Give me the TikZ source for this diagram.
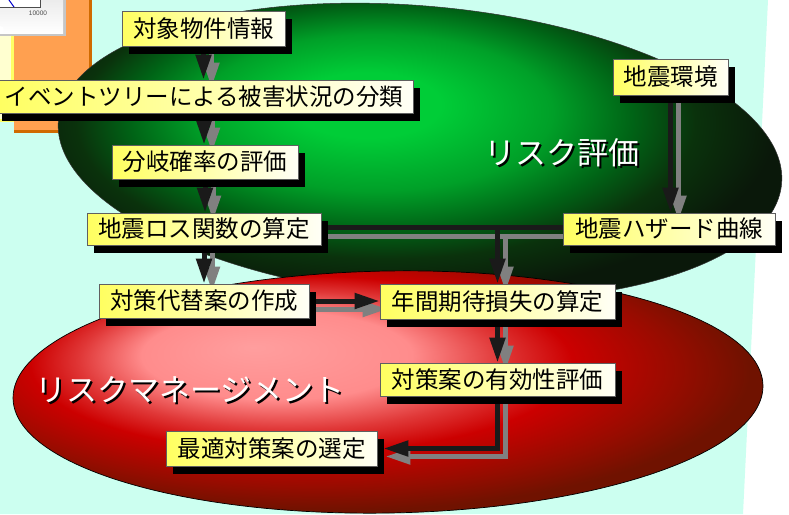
\documentclass[tikz,border=0pt]{standalone}
\usepackage{fontspec}
\setmainfont{Noto Sans CJK JP}
\newfontfamily\latfont{Liberation Sans}
\usetikzlibrary{arrows.meta,shadows,calc}
\definecolor{bgcyan}{RGB}{204,255,240}
\definecolor{orangeA}{RGB}{255,160,80}
\definecolor{orangeB}{RGB}{208,106,0}
\definecolor{paleY}{RGB}{255,255,208}
\definecolor{edgeY}{RGB}{255,255,100}
\definecolor{boxY}{RGB}{255,255,96}
\definecolor{boxW}{RGB}{255,255,246}
\definecolor{arrK}{RGB}{26,26,26}
\definecolor{arrG}{RGB}{128,128,128}
\definecolor{gA}{RGB}{0,205,55}
\definecolor{gB}{RGB}{0,160,40}
\definecolor{gC}{RGB}{0,100,22}
\definecolor{gD}{RGB}{10,50,12}
\definecolor{gE}{RGB}{10,24,10}
\definecolor{rA}{RGB}{255,158,158}
\definecolor{rB}{RGB}{255,140,140}
\definecolor{rC}{RGB}{204,0,0}
\definecolor{rD}{RGB}{150,12,0}
\definecolor{rE}{RGB}{112,18,0}
\pgfdeclareradialshading{greensh}{\pgfpoint{-4bp}{8bp}}{color(0bp)=(gA); color(5bp)=(gA); color(12bp)=(gB); color(17bp)=(gC); color(21bp)=(gD); color(26bp)=(gE); color(50bp)=(gE)}
\pgfdeclareradialshading{redsh}{\pgfpoint{-9bp}{9.5bp}}{color(0bp)=(rA); color(9bp)=(rB); color(14bp)=(rC!60!rB); color(18bp)=(rC); color(24bp)=(rD); color(28bp)=(rE); color(50bp)=(rE)}
\pgfdeclarelayer{bg}
\pgfdeclarelayer{arr}
\pgfsetlayers{bg,arr,main}
\newcommand{\shadowtext}[1]{\makebox[0pt][l]{\hspace*{2pt}\raisebox{-2pt}{\color{black}#1}}\color{white}#1}
\begin{document}
\begin{tikzpicture}[x=1pt,y=-1pt,
  bx/.style={draw=gray!75!black, line width=0.8pt, left color=boxY, right color=boxW,
    inner sep=0pt, font=\fontsize{23.5pt}{24pt}\selectfont, text=black,
    drop shadow={shadow xshift=7pt, shadow yshift=-8pt, opacity=1, fill=black}},
  ttl/.style={font=\fontsize{31pt}{32pt}\selectfont, inner sep=0pt},
  blk/.style={draw=arrK, line width=5pt, -{Triangle[length=25pt,width=15pt]}},
  gry/.style={draw=arrG, line width=5pt, -{Triangle[length=25pt,width=15pt]}},
  blkline/.style={draw=arrK, line width=5pt},
  gryline/.style={draw=arrG, line width=5pt}]
\useasboundingbox (0,0) rectangle (789,514);
\begin{pgfonlayer}{bg}
\fill[white] (0,0) rectangle (789,514);
\fill[bgcyan] (0,0) -- (768,0) -- (743,514) -- (0,514) -- cycle;
% left decorations
\fill[paleY] (0,30) rectangle (14,122);
\fill[edgeY] (11,30) rectangle (14,122);
\fill[edgeY] (0,119) rectangle (14,122);
\fill[orangeA] (14,0) rectangle (92,133);
\fill[orangeB] (89,0) rectangle (92,133);
\fill[orangeB] (14,130) rectangle (92,133);
\fill[gray!45] (0,0) rectangle (66,36);
\shade[top color=gray!15, bottom color=white] (0,0) rectangle (63,33);
\fill[white] (0,0) rectangle (40,7);
\draw[black!70, line width=0.8pt] (0,7) -- (40,7) -- (40,0);
\draw[blue!80!black, line width=1pt] (9,0) -- (14,7);
\fill[white] (0,30) circle (4);
\node[font=\latfont\fontsize{6.5pt}{7pt}\selectfont, text=black!70, inner sep=0pt] (lbl) at (38,13) {10000};
% ellipses
\shade[shading=greensh, rotate around={-5:(420,152)}] (420,152) ellipse [x radius=363, y radius=146];
\draw[black!80, line width=0.5pt, rotate around={-5:(420,152)}] (420,152) ellipse [x radius=363, y radius=146];
\shade[shading=redsh, rotate around={1:(388,392)}] (388,392) ellipse [x radius=375, y radius=121];
\draw[black, line width=0.7pt, rotate around={1:(388,392)}] (388,392) ellipse [x radius=375, y radius=121];
% titles
\node[ttl] (t1) at (562,154) {\shadowtext{リスク評価}};
\node[ttl] (t2) at (190,391) {\shadowtext{リスクマネージメント}};
\end{pgfonlayer}
% boxes
\node[bx, minimum width=163pt, minimum height=35pt] (n1) at (203.5,28.5) {対象物件情報};
\node[bx, minimum width=418pt, minimum height=33pt] (n2) at (204,96.5) {イベントツリーによる被害状況の分類};
\node[bx, minimum width=186pt, minimum height=34pt] (n3) at (205,162) {分岐確率の評価};
\node[bx, minimum width=234pt, minimum height=32pt] (n4) at (204,229) {地震ロス関数の算定};
\node[bx, minimum width=210pt, minimum height=34pt] (n5) at (204,301) {対策代替案の作成};
\node[bx, minimum width=235pt, minimum height=35pt] (n6) at (497.5,301.5) {年間期待損失の算定};
\node[bx, minimum width=235pt, minimum height=33pt] (n7) at (497.5,379.5) {対策案の有効性評価};
\node[bx, minimum width=211pt, minimum height=35pt] (n8) at (271.5,448.5) {最適対策案の選定};
\node[bx, minimum width=115pt, minimum height=36pt] (n9) at (670.5,77) {地震環境};
\node[bx, minimum width=212pt, minimum height=32pt] (n10) at (669,229) {地震ハザード曲線};
% arrows
\begin{pgfonlayer}{arr}
% gray (shadow) arrows
\draw[gry] ([xshift=8pt]n1.center) -- ([xshift=8pt,yshift=-8pt]n1.center |- n2.north);
\draw[gry] ([xshift=8pt]n2.center) -- ([xshift=8pt,yshift=-8pt]n2.center |- n3.north);
\draw[gry] ([xshift=8pt]n3.center) -- ([xshift=8pt,yshift=-8pt]n3.center |- n4.north);
\draw[gry] ([xshift=8pt]n4.center) -- ([xshift=8pt,yshift=-8pt]n4.center |- n5.north);
\draw[gry] ([xshift=8pt]n9.center) -- ([xshift=8pt,yshift=-8pt]n9.center |- n10.north);
\draw[gryline] ([yshift=-7pt]n4.center) -- ([yshift=-7pt]n10.center);
\draw[gry] ([xshift=8pt,yshift=-7pt]n4.center -| n6.north) -- ([xshift=8pt,yshift=-8pt]n6.north);
\draw[gry] ([yshift=-8pt]n5.center) -- ([xshift=8pt,yshift=-8pt]n5.center -| n6.west);
\draw[gry] ([xshift=8pt]n6.center) -- ([xshift=8pt,yshift=-8pt]n7.north);
\draw[gry] ([xshift=8pt]n7.center) |- ([xshift=8pt,yshift=-8pt]n8.east);
% black arrows
\draw[blk] (n1.center) -- (n1.center |- n2.north);
\draw[blk] (n2.center) -- (n2.center |- n3.north);
\draw[blk] (n3.center) -- (n3.center |- n4.north);
\draw[blk] (n4.center) -- (n4.center |- n5.north);
\draw[blk] (n9.center) -- (n9.center |- n10.north);
\draw[blkline] ([yshift=2pt]n4.center) -- ([yshift=2pt]n10.center);
\draw[blk] ([yshift=2pt]n4.center -| n6.north) -- (n6.north);
\draw[blk] (n5.center) -- (n5.center -| n6.west);
\draw[blk] (n6.center) -- (n7.north);
\draw[blk] (n7.center) |- ([xshift=6pt]n8.east);
\end{pgfonlayer}
\end{tikzpicture}
\end{document}
